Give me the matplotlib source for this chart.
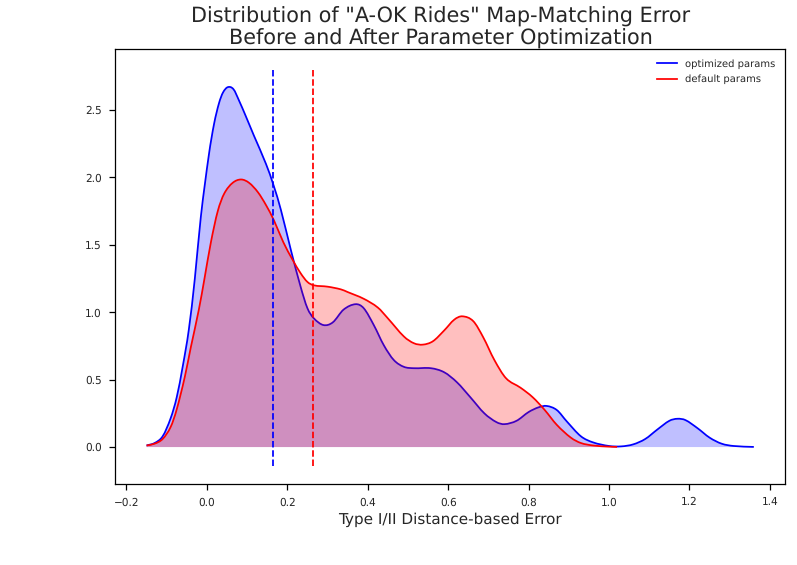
import matplotlib
matplotlib.use("Agg")
import matplotlib.pyplot as plt
from matplotlib.patches import PathPatch
from matplotlib.path import Path

# values
opt_x = [-0.15, -0.13, -0.11, -0.09, -0.075, -0.06, -0.045, -0.03, -0.015, 0.005, 0.018, 0.03, 0.04, 0.052,
         0.066, 0.08, 0.096, 0.117, 0.147, 0.166, 0.184, 0.209, 0.233, 0.25, 0.266, 0.29, 0.313, 0.34,
         0.37, 0.39, 0.415, 0.44, 0.465, 0.49, 0.515, 0.557, 0.59, 0.622, 0.655, 0.69, 0.72, 0.74, 0.77,
         0.80, 0.825, 0.845, 0.87, 0.895, 0.93, 0.96, 1.0, 1.03, 1.06, 1.09, 1.12, 1.15, 1.17, 1.19, 1.22, 1.25,
         1.28, 1.31, 1.36]
opt_y = [0.012, 0.03, 0.08, 0.215, 0.37, 0.6, 0.87, 1.25, 1.71, 2.17, 2.40, 2.55, 2.63, 2.67,
         2.655, 2.57, 2.46, 2.31, 2.10, 1.94, 1.76, 1.46, 1.19, 1.03, 0.955, 0.905, 0.925, 1.02,
         1.06, 1.03, 0.905, 0.755, 0.645, 0.595, 0.585, 0.585, 0.555, 0.48, 0.37, 0.25, 0.185, 0.17, 0.195,
         0.26, 0.295, 0.305, 0.275, 0.19, 0.08, 0.035, 0.008, 0.005, 0.02, 0.06, 0.13, 0.195, 0.21, 0.2, 0.14, 0.07,
         0.025, 0.008, 0.001]

def_x = [-0.15, -0.13, -0.11, -0.09, -0.075, -0.055, -0.04, -0.02, -0.006, 0.01, 0.027, 0.043, 0.064, 0.085,
         0.105, 0.127, 0.147, 0.167, 0.19, 0.213, 0.233, 0.25, 0.266, 0.3, 0.333, 0.35, 0.39, 0.425, 0.45,
         0.49, 0.515, 0.537, 0.562, 0.59, 0.615, 0.635, 0.662, 0.687, 0.715, 0.744, 0.78, 0.81, 0.84, 0.87,
         0.905, 0.93, 0.96, 1.0, 1.02]
def_y = [0.012, 0.025, 0.06, 0.15, 0.28, 0.52, 0.74, 1.02, 1.25, 1.52, 1.75, 1.88, 1.96, 1.985,
         1.96, 1.89, 1.795, 1.68, 1.52, 1.39, 1.29, 1.225, 1.2, 1.19, 1.17, 1.15, 1.10, 1.035, 0.955,
         0.82, 0.77, 0.76, 0.785, 0.865, 0.945, 0.97, 0.935, 0.815, 0.645, 0.51, 0.44, 0.37, 0.275, 0.165,
         0.07, 0.03, 0.012, 0.003, 0.001]

opt_mean = 0.165
def_mean = 0.264
x_ticks = [-0.2, 0.0, 0.2, 0.4, 0.6, 0.8, 1.0, 1.2, 1.4]
y_ticks = [0.0, 0.5, 1.0, 1.5, 2.0, 2.5]

text_col = "#262626"
plt.rcParams["font.family"] = "DejaVu Sans"
plt.rcParams["text.hinting"] = "no_hinting"


def smooth_verts(xs, ys):
    # bezier control points so the read points get joined by a curve, not straight bits
    verts = [(xs[0], ys[0])]
    n = len(xs)
    for i in range(n - 1):
        p = max(i - 1, 0)
        q = min(i + 2, n - 1)
        h = xs[i + 1] - xs[i]
        m0 = (ys[i + 1] - ys[p]) / (xs[i + 1] - xs[p])
        m1 = (ys[q] - ys[i]) / (xs[q] - xs[i])
        verts.append((xs[i] + h / 3, ys[i] + m0 * h / 3))
        verts.append((xs[i + 1] - h / 3, ys[i + 1] - m1 * h / 3))
        verts.append((xs[i + 1], ys[i + 1]))
    return verts


def draw_kde(ax, xs, ys, color, label):
    verts = smooth_verts(xs, ys)
    codes = [Path.MOVETO] + [Path.CURVE4] * (len(verts) - 1)
    fill = Path(verts + [(xs[-1], 0), (xs[0], 0), (xs[0], ys[0])],
                codes + [Path.LINETO, Path.LINETO, Path.CLOSEPOLY])
    ax.add_patch(PathPatch(fill, facecolor=color, alpha=0.25, linewidth=0))
    ax.add_patch(PathPatch(Path(verts, codes), facecolor="none", edgecolor=color, lw=1.75))
    ax.plot([], [], color=color, lw=1.75, label=label)


fig = plt.figure(figsize=(797 / 72, 565 / 72), dpi=72)
ax = fig.add_axes([115 / 797, 1 - 484 / 565, 670 / 797, 435 / 565])

draw_kde(ax, opt_x, opt_y, "blue", "optimized params")
draw_kde(ax, def_x, def_y, "red", "default params")
ax.plot([opt_mean, opt_mean], [-0.14, 2.8], color="blue", ls="--", lw=1.75)
ax.plot([def_mean, def_mean], [-0.14, 2.8], color="red", ls="--", lw=1.75)

ax.set_xlim(-0.2285, 1.4375)
ax.set_ylim(-0.274, 2.953)
ax.set_xticks(x_ticks)
ax.set_yticks(y_ticks)
ax.tick_params(labelsize=10.5, length=6, width=1.25, colors=text_col, color="black", pad=7)
for s in ax.spines.values():
    s.set_linewidth(1.25)
    s.set_color("black")

ax.set_xlabel("Type I/II Distance-based Error", fontsize=15.3, color=text_col, labelpad=4.5)
ax.set_title('Distribution of "A-OK Rides" Map-Matching Error\nBefore and After Parameter Optimization',
             fontsize=20.7, color=text_col, linespacing=1.1, pad=4, x=0.4865)
leg = ax.legend(loc="upper right", frameon=False, fontsize=10, labelspacing=0.6, borderaxespad=0.6)
for t in leg.get_texts():
    t.set_color(text_col)

fig.savefig("out.png", dpi=72)
